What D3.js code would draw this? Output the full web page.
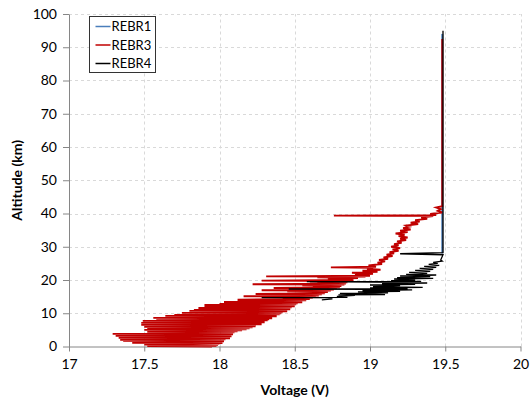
<!DOCTYPE html>
<html>
<head>
<meta charset="utf-8">
<script src="https://cdn.jsdelivr.net/npm/d3@7"></script>
<style>
  body { margin: 0; background: #fff; }
  text { font-family: Lato, "Liberation Sans", sans-serif; fill: #000; }
</style>
</head>
<body>
<div id="chart"></div>
<script>
// series: [altitude km, voltage V]
const seriesNames = ["REBR1", "REBR3", "REBR4"];
const seriesColors = ["#4a7ebb", "#c00000", "#000000"];

const rebr1 = [[28.0, 19.48], [60.0, 19.48], [94.0, 19.48]];

const rebr3 = [
  [0.0, 17.95], [0.1, 17.52], [0.2, 17.98], [0.35, 17.55], [0.5, 17.99], [0.6, 17.5],
  [0.8, 18.0], [0.9, 17.58], [1.05, 18.02], [1.15, 17.42], [1.3, 18.01], [1.4, 17.55],
  [1.6, 18.03], [1.7, 17.36], [1.9, 18.02], [2.0, 17.34], [2.2, 18.04], [2.3, 17.6],
  [2.5, 18.07], [2.6, 17.33], [2.8, 18.05], [2.9, 17.45], [3.1, 18.08], [3.2, 17.31],
  [3.4, 18.06], [3.5, 17.62], [3.7, 18.09], [3.8, 17.29], [4.0, 18.08], [4.1, 17.55],
  [4.3, 18.1], [4.4, 17.52], [4.6, 18.12], [4.7, 17.6], [4.9, 18.15], [5.0, 17.5],
  [5.2, 18.18], [5.3, 17.52], [5.5, 18.2], [5.6, 17.58], [5.8, 18.22], [5.9, 17.5],
  [6.1, 18.24], [6.2, 17.62], [6.4, 18.23], [6.5, 17.48], [6.7, 18.28], [6.8, 17.55],
  [7.0, 18.27], [7.1, 17.48], [7.3, 18.3], [7.4, 17.6], [7.6, 18.29], [7.7, 17.49],
  [7.9, 18.32], [8.0, 17.7], [8.2, 18.33], [8.3, 17.58], [8.5, 18.35], [8.6, 17.56],
  [8.8, 18.34], [8.9, 17.72], [9.1, 18.38], [9.2, 17.64], [9.4, 18.37], [9.5, 17.7],
  [9.7, 18.4], [9.8, 17.85], [10.0, 18.41], [10.1, 17.75], [10.3, 18.42], [10.4, 17.9],
  [10.6, 18.45], [10.7, 17.8], [10.9, 18.44], [11.0, 17.83], [11.2, 18.47], [11.3, 17.95],
  [11.5, 18.46], [11.6, 17.86], [11.8, 18.48], [11.9, 17.9], [12.1, 18.5], [12.2, 18.05],
  [12.4, 18.49], [12.5, 17.9], [12.7, 18.51], [12.8, 18.0], [13.0, 18.52], [13.1, 18.1],
  [13.3, 18.55], [13.4, 18.03], [13.6, 18.54], [13.7, 18.12], [13.9, 18.57],
  [14.0, 18.57], [14.1, 18.12], [14.3, 18.6], [14.5, 18.42], [14.7, 18.62], [14.9, 18.5],
  [15.0, 18.64], [15.1, 18.16], [15.3, 18.66], [15.5, 18.48], [15.7, 18.68], [15.8, 18.24],
  [16.0, 18.7], [16.2, 18.55], [16.4, 18.72], [16.6, 18.45], [16.8, 18.74], [16.9, 18.28],
  [17.1, 18.76], [17.3, 18.6], [17.5, 18.78], [17.6, 18.36], [17.8, 18.8], [18.0, 18.62],
  [18.2, 18.81], [18.4, 18.55], [18.6, 18.83], [18.7, 18.22], [18.9, 18.84], [19.1, 18.65],
  [19.3, 18.85], [19.5, 18.6], [19.7, 18.87], [19.8, 18.28], [20.0, 18.89], [20.3, 18.72],
  [20.6, 18.92], [20.8, 18.65], [21.0, 18.97], [21.1, 18.31], [21.3, 19.0], [21.6, 18.9],
  [21.9, 19.02], [22.2, 18.88], [22.5, 19.05], [22.8, 18.95], [23.1, 19.07], [23.4, 18.98],
  [23.7, 19.02], [23.8, 18.74], [24.0, 19.04], [24.4, 18.99], [24.8, 19.08], [25.2, 19.05],
  [25.6, 19.1], [26.0, 19.06], [26.4, 19.12], [26.8, 19.09], [27.2, 19.15], [27.6, 19.11],
  [28.0, 19.16], [28.4, 19.13], [28.8, 19.19], [29.2, 19.15], [29.6, 19.2], [30.0, 19.14],
  [30.4, 19.19], [30.8, 19.16], [31.2, 19.21], [31.6, 19.18], [32.0, 19.24], [32.4, 19.2],
  [32.8, 19.25], [33.2, 19.19], [33.6, 19.23], [34.0, 19.17], [34.4, 19.25], [34.8, 19.2],
  [35.2, 19.27], [35.6, 19.22], [36.0, 19.26], [36.4, 19.24], [36.8, 19.32], [37.2, 19.27],
  [37.6, 19.33], [38.0, 19.3], [38.4, 19.38], [38.8, 19.34], [39.2, 19.42], [39.35, 18.76],
  [39.5, 19.44], [39.9, 19.4], [40.3, 19.48], [40.8, 19.45], [41.3, 19.47], [41.8, 19.44],
  [42.2, 19.48], [92.5, 19.48]
];

const rebr4 = [
  [14.0, 18.68], [14.3, 18.75], [14.6, 18.72], [14.7, 18.28], [14.8, 18.85], [15.1, 18.78],
  [15.4, 18.9], [15.5, 18.79], [15.6, 19.1], [15.9, 18.85], [16.0, 18.8], [16.1, 19.12],
  [16.4, 18.92], [16.6, 19.2], [16.8, 18.95], [17.0, 19.28], [17.2, 18.97], [17.3, 18.46],
  [17.4, 19.25], [17.6, 19.0], [17.8, 19.35], [18.0, 19.02], [18.3, 19.2], [18.5, 19.0],
  [18.7, 19.3], [18.9, 19.08], [19.1, 19.38], [19.3, 19.1], [19.5, 18.58], [19.6, 19.34],
  [19.8, 19.14], [20.0, 19.3], [20.3, 19.16], [20.5, 19.42], [20.7, 19.18], [21.0, 19.4],
  [21.2, 19.2], [21.5, 19.44], [21.7, 19.24], [22.0, 19.38], [22.3, 19.26], [22.6, 19.4],
  [22.9, 19.3], [23.2, 19.42], [23.5, 19.33], [23.8, 19.44], [24.1, 19.36], [24.4, 19.46],
  [24.7, 19.39], [25.0, 19.45], [25.3, 19.42], [25.7, 19.48], [26.0, 19.47], [27.6, 19.485],
  [27.9, 19.2], [28.2, 19.485], [95.0, 19.485]
];

const xTicks = [17, 17.5, 18, 18.5, 19, 19.5, 20];
const yTicks = [0, 10, 20, 30, 40, 50, 60, 70, 80, 90, 100];

const W = 530, H = 402;
const svg = d3.select("#chart").append("svg").attr("width", W).attr("height", H);

const x = d3.scaleLinear().domain([17, 20]).range([69, 520.5]);
const y = d3.scaleLinear().domain([0, 100]).range([346.5, 14]);

// gridlines
svg.append("g").selectAll("line").data(yTicks.filter(d => d > 0)).enter().append("line")
  .attr("x1", x(17)).attr("x2", x(20))
  .attr("y1", d => Math.round(y(d)) + 0.5).attr("y2", d => Math.round(y(d)) + 0.5)
  .attr("stroke", "#d9d9d9").attr("stroke-dasharray", "3,3");
svg.append("g").selectAll("line").data(xTicks.filter(d => d > 17)).enter().append("line")
  .attr("x1", d => Math.round(x(d)) + 0.5).attr("x2", d => Math.round(x(d)) + 0.5)
  .attr("y1", y(0)).attr("y2", y(100))
  .attr("stroke", "#d9d9d9").attr("stroke-dasharray", "3,3");

// axes
const xAxis = svg.append("g").attr("transform", `translate(0,${y(0)})`)
  .call(d3.axisBottom(x).tickValues(xTicks).tickSize(5).tickSizeOuter(0).tickFormat(d3.format("")));
const yAxis = svg.append("g").attr("transform", `translate(${x(17)},0)`)
  .call(d3.axisLeft(y).tickValues(yTicks).tickSize(6).tickSizeOuter(0));
[xAxis, yAxis].forEach(a => {
  a.select(".domain").attr("stroke", "#868686");
  a.selectAll(".tick line").attr("stroke", "#868686");
  a.selectAll("text").style("font-size", "14px").style("font-family", "Lato, sans-serif").attr("fill", "#000");
});
xAxis.selectAll("text").attr("dy", "1.05em");
yAxis.selectAll("text").attr("x", -12);

// series
const line = d3.line().x(d => x(d[1])).y(d => y(d[0]));
const allSeries = [rebr1, rebr3, rebr4];
allSeries.forEach((s, i) => {
  svg.append("path").datum(s)
    .attr("d", line)
    .attr("fill", "none")
    .attr("stroke", seriesColors[i])
    .attr("stroke-width", i === 2 ? 1.3 : 1.9)
    .attr("stroke-linejoin", "miter");
});

// axis titles
svg.append("text").attr("x", (x(17) + x(20)) / 2).attr("y", 395)
  .attr("text-anchor", "middle").style("font-size", "14px").style("font-weight", "bold")
  .text("Voltage (V)");
svg.append("text").attr("transform", `translate(22,${(y(0) + y(100)) / 2}) rotate(-90)`)
  .attr("text-anchor", "middle").style("font-size", "14px").style("font-weight", "bold")
  .text("Altitude (km)");

// legend
const lg = svg.append("g").attr("transform", "translate(89.5,16.5)");
lg.append("rect").attr("width", 66).attr("height", 56)
  .attr("fill", "#fff").attr("stroke", "#333");
seriesNames.forEach((name, i) => {
  const cy = 10 + i * 18.5;
  lg.append("line").attr("x1", 6).attr("x2", 21).attr("y1", cy).attr("y2", cy)
    .attr("stroke", seriesColors[i]).attr("stroke-width", 1.5);
  lg.append("text").attr("x", 22).attr("y", cy).attr("dy", "0.35em")
    .style("font-size", "13px").text(name);
});
</script>
</body>
</html>
